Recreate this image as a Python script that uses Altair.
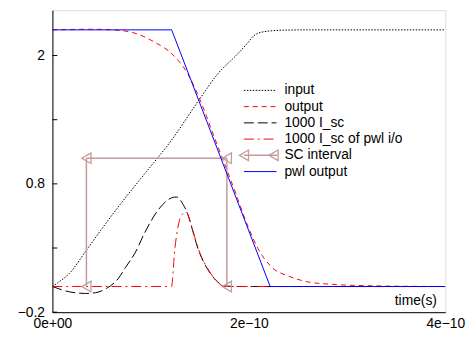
import altair as alt
import pandas as pd

# ---------------- data (time in units of 1e-10 s) ----------------
t_input = [0, 0.07, 0.17, 0.34, 0.50, 0.65, 0.88, 1.21, 1.50, 1.68, 1.88, 1.99, 2.05, 2.15, 2.36, 2.62, 4.0]
v_input = [0.0, 0.038, 0.10, 0.277, 0.446, 0.60, 0.823, 1.138, 1.462, 1.654, 1.808, 1.90, 1.954, 1.985, 1.998, 2.0, 2.0]

t_output = [0, 0.4, 0.7, 0.88, 1.05, 1.21, 1.38, 1.50, 1.65, 1.85, 1.99, 2.09, 2.22, 2.42, 2.59, 2.89, 3.3, 4.0]
v_output = [2.0, 2.005, 1.995, 1.964, 1.90, 1.818, 1.654, 1.46, 1.16, 0.76, 0.47, 0.30, 0.16, 0.077, 0.038, 0.015, 0.005, 0.0]

t_isc = [0, 0.17, 0.34, 0.44, 0.55, 0.67, 0.745, 0.84, 0.94, 1.08, 1.21, 1.26, 1.33, 1.38, 1.415, 1.48, 1.55, 1.62, 1.70, 1.76, 1.88, 4.0]
v_isc = [0, -0.041, -0.054, -0.048, -0.015, 0.062, 0.15, 0.26, 0.42, 0.60, 0.69, 0.698, 0.64, 0.56, 0.47, 0.30, 0.175, 0.09, 0.025, 0.004, 0.0, 0.0]

t_isc_pwl = [0, 1.212, 1.246, 1.28, 1.313, 1.363, 1.397, 1.431, 1.498, 1.582, 1.665, 1.716, 1.763, 4.0]
v_isc_pwl = [0, 0.0, 0.29, 0.47, 0.554, 0.579, 0.523, 0.433, 0.267, 0.138, 0.048, 0.012, 0.0, 0.0]

t_pwl = [0, 1.214, 2.217, 4.0]
v_pwl = [2.0, 2.0, 0.0, 0.0]

sc_t = [0.346, 1.776]
sc_v = [1.0, 0.0]

legend_labels = ["input", "output", "1000 I_sc", "1000 I_sc of pwl i/o", "SC interval", "pwl output"]

x_tick_values = [0, 2, 4]
x_tick_labels = ["0e+00", "2e\u221210", "4e\u221210"]
y_label_values = [-0.2, 0.8, 1.8]
y_tick_values = [-0.2, 0.3, 0.8, 1.3, 1.8]

# ---------------- layout / style ----------------
FONT = "Liberation Sans"
W, H = 398, 306
PX_PER_UNIT = 130
Y_MIN = -0.2
Y_MAX = Y_MIN + H / PX_PER_UNIT
ROSY = "#c49a9a"

xscale = alt.Scale(domain=[0, 4], nice=False, zero=False)
yscale = alt.Scale(domain=[Y_MIN, Y_MAX], nice=False, zero=False)

label_expr = "[" + ",".join("'%s'" % s for s in x_tick_labels) + "][round(datum.value/2)]"

x_axis = alt.Axis(values=x_tick_values, labelExpr=label_expr, ticks=False, tickSize=0,
                  grid=False, domainColor="black", domainWidth=1, labelFlush=False,
                  labelFont=FONT, labelFontSize=14, labelColor="black", labelPadding=5,
                  title="time(s)", titleX=389, titleY=-8, titleAlign="right",
                  titleBaseline="alphabetic", titleFont=FONT, titleFontSize=14,
                  titleFontWeight="normal", titleColor="black")
y_axis = alt.Axis(values=y_label_values, format=".1g", ticks=False, tickSize=0, grid=False,
                  domainColor="black", domainWidth=1, labelFont=FONT, labelFontSize=14,
                  labelColor="black", labelPadding=8, title=None)

X = lambda f: alt.X(f, type="quantitative", scale=xscale, axis=x_axis)
Y = lambda f: alt.Y(f, type="quantitative", scale=yscale, axis=y_axis)


def curve(t, v, color, dash=None, interp="monotone"):
    df = pd.DataFrame({"t": t, "v": v})
    kw = dict(color=color, strokeWidth=1, interpolate=interp, clip=True)
    if dash:
        kw["strokeDash"] = dash
    return alt.Chart(df).mark_line(**kw).encode(x=X("t"), y=Y("v"))


styles = [
    dict(color="black", dash=[1.5, 1.5]),
    dict(color="#ff0000", dash=[5, 4]),
    dict(color="black", dash=[10, 4]),
    dict(color="#ff0000", dash=[10, 4, 2, 4]),
    None,
    dict(color="#0000ff", dash=None),
]

layers = []

# inward y ticks
layers.append(alt.Chart(pd.DataFrame({"v": y_tick_values})).mark_rule(color="black", strokeWidth=1)
              .encode(y=Y("v"), x=alt.value(0), x2=alt.value(5)))

layers.append(curve(t_input, v_input, **styles[0]))
layers.append(curve(t_output, v_output, **styles[1]))
layers.append(curve(t_isc, v_isc, **styles[2]))
layers.append(curve(t_isc_pwl, v_isc_pwl, **styles[3]))

# SC interval
hdf = pd.DataFrame({"t1": [sc_t[0]], "t2": [sc_t[1]], "v": [sc_v[0]]})
layers.append(alt.Chart(hdf).mark_rule(color=ROSY, strokeWidth=1.5)
              .encode(x=X("t1"), x2="t2", y=Y("v")))
vdf = pd.DataFrame({"t": sc_t, "v1": [sc_v[0]] * 2, "v2": [sc_v[1]] * 2})
layers.append(alt.Chart(vdf).mark_rule(color=ROSY, strokeWidth=1.5)
              .encode(x=X("t"), y=Y("v1"), y2="v2"))
cdf = pd.DataFrame({"t": [sc_t[0], sc_t[1], sc_t[0], sc_t[1]],
                    "v": [sc_v[0], sc_v[0], sc_v[1], sc_v[1]]})
layers.append(alt.Chart(cdf).mark_point(shape="triangle-left", filled=False, size=115,
                                        color=ROSY, strokeWidth=1.3, opacity=1)
              .encode(x=X("t"), y=Y("v")))

layers.append(curve(t_pwl, v_pwl, interp="linear", **styles[5]))

# ---------------- manual legend (pixel layout) ----------------
LX0, LX1, LTX = 194, 227, 235
LY0, LDY = 81.3, 16.45
for i, lab in enumerate(legend_labels):
    y = LY0 + LDY * i
    one = pd.DataFrame({"label": [lab]})
    st = styles[i]
    if st is None:
        layers.append(alt.Chart(one).mark_rule(color=ROSY, strokeWidth=1.5)
                      .encode(x=alt.value(LX0), x2=alt.value(LX1 + 1), y=alt.value(y)))
        for px in (LX0, LX1 - 3):
            layers.append(alt.Chart(one).mark_point(shape="triangle-left", filled=False, size=115,
                                                    color=ROSY, strokeWidth=1.3, opacity=1)
                          .encode(x=alt.value(px), y=alt.value(y)))
    else:
        kw = dict(color=st["color"], strokeWidth=1)
        if st["dash"]:
            kw["strokeDash"] = st["dash"]
        layers.append(alt.Chart(one).mark_rule(**kw)
                      .encode(x=alt.value(LX0), x2=alt.value(LX1), y=alt.value(y)))
    layers.append(alt.Chart(one).mark_text(align="left", baseline="middle", font=FONT,
                                           fontSize=14, color="black")
                  .encode(text="label:N", x=alt.value(LTX), y=alt.value(y)))

chart = alt.layer(*layers).properties(
    width=W, height=H,
    autosize=alt.AutoSizeParams(type="none"),
    padding={"left": 45, "top": 0, "right": 23, "bottom": 25},
).configure_view(stroke=None).configure(background="white")

chart.save("out.html", embed_options={"renderer": "svg", "actions": False})
